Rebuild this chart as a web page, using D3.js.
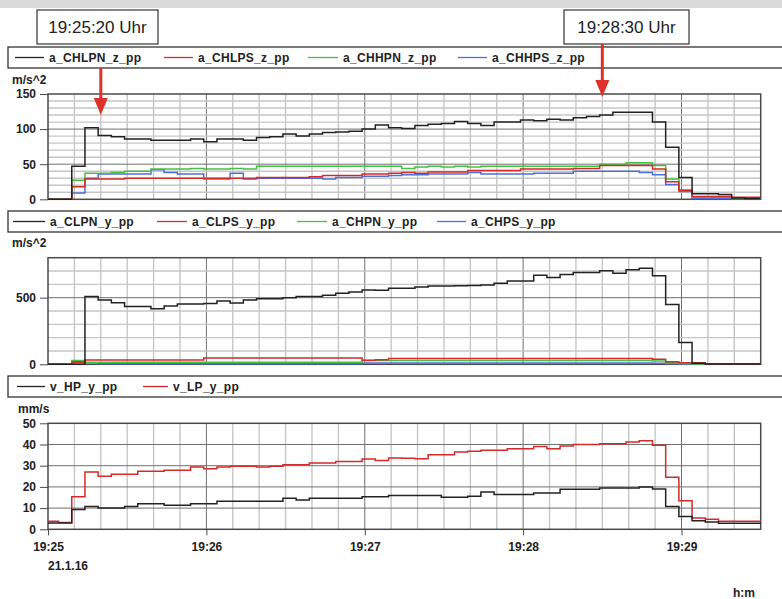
<!DOCTYPE html>
<html>
<head>
<meta charset="utf-8">
<script src="https://cdn.jsdelivr.net/npm/d3@7"></script>
<style>
  body { margin: 0; background: #fff; }
  svg text { font-family: "Liberation Sans", Arial, sans-serif; }
</style>
</head>
<body>
<svg id="chart" width="782" height="599"></svg>
<script>
// Time base: 5 s samples, 19:25:00 .. 19:29:30 (21.1.16)
const t0 = new Date(2016, 0, 21, 19, 25, 0);
const tEnd = new Date(2016, 0, 21, 19, 29, 30);
const stepSec = d3.range(55).map(k => (k === 0 ? 0 : 5 * k - 1));

// Panel 1: a_..._z_pp  [m/s^2]
const namesZ = ["a_CHLPN_z_pp", "a_CHLPS_z_pp", "a_CHHPN_z_pp", "a_CHHPS_z_pp"];
const zCHLPN = [0,0,47,102,91,89,86,86,84,84, 84,86,82,86,86,84,88,89,93,90,
  93,95,96,97,100,106,102,101,105,107, 108,111,108,105,110,110,113,112,114,113,
  116,118,120,124,124,124,110,74,31,8, 8,7,2,1,1];
const zCHLPS = [0,0,18,29,29,29,30,30,30,30, 30,30,30,30,30,29,31,31,31,31,
  32,34,34,34,36,36,37,38,37,39, 39,39,41,41,41,41,43,43,43,43,
  44,44,48,48,48,48,43,25,13,4, 4,4,3,3,3];
const zCHHPN = [0,0,27,37,37,38,40,40,43,43, 43,44,43,43,44,43,47,47,47,47,
  47,47,47,47,47,47,47,44,46,47, 46,47,46,47,47,47,47,47,47,47,
  47,47,50,50,52,52,48,29,13,3, 3,3,1,1,1];
const zCHHPS = [0,0,9,30,36,36,36,36,42,38, 36,36,29,29,37,30,30,30,30,30,
  30,29,31,31,33,33,34,35,35,36, 36,36,38,36,36,36,36,37,37,37,
  40,40,40,40,40,38,35,21,11,1, 1,1,1,1,1];

// Panel 2: a_..._y_pp  [m/s^2]
const namesY = ["a_CLPN_y_pp", "a_CLPS_y_pp", "a_CHPN_y_pp", "a_CHPS_y_pp"];
const yCLPN = [0,0,0,508,482,462,434,434,417,437, 452,452,457,475,460,482,492,492,500,508,
  508,518,533,543,558,556,571,571,581,588, 588,590,592,595,608,626,626,669,652,674,
  689,689,702,684,710,720,664,449,164,8, 3,3,3,3,3];
const yCLPS = [0,0,15,33,33,33,33,33,33,33, 33,33,48,48,48,48,48,48,48,48,
  48,48,48,48,30,35,43,43,43,43, 43,43,43,43,43,43,43,43,43,43,
  43,43,43,43,43,43,38,20,12,12, 3,3,3,3,3];
const yCHPN = [0,0,28,15,15,15,15,15,15,15, 15,15,15,15,15,15,15,15,15,15,
  15,15,15,15,28,28,28,28,28,28, 28,28,28,28,28,28,28,28,28,28,
  28,28,28,28,28,28,25,12,6,2, 2,2,2,2,2];
const yCHPS = [0,0,20,12,5,5,5,5,5,5, 5,5,5,5,5,5,5,5,5,5,
  5,5,5,5,10,10,10,10,10,10, 10,10,10,10,10,10,10,10,10,10,
  10,10,10,10,10,10,8,5,2,2, 2,2,2,2,2];

// Panel 3: velocities [mm/s]
const namesV = ["v_HP_y_pp", "v_LP_y_pp"];
const vHP = [3,3,9.3,10.8,10,10,10.8,12,12,11.3, 11.3,12,12,13.2,13.2,13.2,13.2,13.2,14.6,13.8,
  14.6,14.6,14.6,14.6,15.3,15.3,15.9,15.9,15.9,15.9, 15.1,15.1,15.6,17.6,16.4,16.4,16.4,17.1,17.1,18.9,
  18.9,18.9,19.5,19.5,19.5,20,19,10.7,6,4, 3.5,2.8,2.8,2.8,2.8];
const vLP = [3.8,3.2,15.3,27,25,26,26,27.4,27.4,27.8, 27.8,29.4,28.6,29.4,29.7,29.7,29.4,29.7,30.5,30.5,
  31.3,31.3,32,32,33.2,32.5,33.6,33.5,33.3,35.2, 35.2,36.5,36.8,37.3,37.3,38,38,39,38,39.3,
  40,40,40.3,40.3,41.2,41.8,39.6,24.5,13.5,5.3, 4.7,3.8,3.8,3.8,3.8];

// markers
const marks = [
  { label: "19:25:20 Uhr", sec: 20 },
  { label: "19:28:30 Uhr", sec: 210 }
];

const colors4 = ["#222222", "#d42a2a", "#44c044", "#4d70d6"];
const colors2 = ["#222222", "#d42a2a"];

const svg = d3.select("#chart");
const x = d3.scaleTime().domain([t0, tEnd]).range([48, 760.7]);
const at = s => d3.timeSecond.offset(t0, s);

// grey band on top
svg.append("rect").attr("x", 0).attr("y", 0).attr("width", 782).attr("height", 8).attr("fill", "#dadada");

const panels = [
  { top: 94, bottom: 199.3, max: 150, minor: 10, major: 50, unit: "m/s^2", unitY: 84,
    legendY: 47, names: namesZ, series: [zCHLPN, zCHLPS, zCHHPN, zCHHPS], colors: colors4,
    legendX: [[15, 49], [164, 198], [308, 343], [458, 492]] },
  { top: 257.7, bottom: 364.3, max: 800, minor: 100, major: 500, unit: "m/s^2", unitY: 247,
    legendY: 211, names: namesY, series: [yCLPN, yCLPS, yCHPN, yCHPS], colors: colors4,
    legendX: [[13, 50], [157, 192], [297, 332], [437, 471]] },
  { top: 423.3, bottom: 529.3, max: 50, minor: 10, major: 10, unit: "mm/s", unitY: 413,
    legendY: 376, names: namesV, series: [vHP, vLP], colors: colors2,
    legendX: [[17, 50], [143, 173]] }
];

const minorTimes = d3.timeSecond.every(10).range(t0, tEnd).slice(1);

panels.forEach((p, i) => {
  const y = d3.scaleLinear().domain([0, p.max]).range([p.bottom, p.top]);
  const g = svg.append("g");

  // legend box
  const lg = svg.append("g");
  lg.append("rect").attr("x", 8).attr("y", p.legendY).attr("width", 800).attr("height", 21)
    .attr("fill", "#fff").attr("stroke", "#333").attr("stroke-width", 1.3);
  p.names.forEach((n, j) => {
    const [lx, tx] = p.legendX[j];
    const cy = p.legendY + 10.5;
    lg.append("line").attr("x1", lx).attr("x2", tx - 5).attr("y1", cy).attr("y2", cy)
      .attr("stroke", p.colors[j]).attr("stroke-width", 1.3);
    lg.append("text").attr("x", tx).attr("y", cy + 4.5).text(n)
      .attr("font-size", 12).attr("font-weight", "bold").attr("fill", "#222")
      .attr("letter-spacing", 0.3);
  });

  // unit label
  svg.append("text").attr("x", i === 2 ? 18 : 12).attr("y", p.unitY).text(p.unit)
    .attr("font-size", 12).attr("font-weight", "bold").attr("fill", "#222");

  // vertical grid
  g.selectAll("line.vmin").data(minorTimes).enter().append("line")
    .attr("x1", d => x(d)).attr("x2", d => x(d)).attr("y1", p.top).attr("y2", p.bottom)
    .attr("stroke", d => d.getSeconds() === 0 ? "#707070" : "#c6c6c6")
    .attr("stroke-width", d => d.getSeconds() === 0 ? 1 : 1.4);

  // horizontal grid
  const hv = d3.range(p.minor, p.max, p.minor);
  g.selectAll("line.h").data(hv).enter().append("line")
    .attr("x1", 48).attr("x2", 760.7).attr("y1", d => y(d)).attr("y2", d => y(d))
    .attr("stroke", d => d % p.major === 0 ? "#707070" : "#c6c6c6")
    .attr("stroke-width", d => d % p.major === 0 ? 1 : 1.4);

  // frame
  g.append("rect").attr("x", 48).attr("y", p.top).attr("width", 760.7 - 48).attr("height", p.bottom - p.top)
    .attr("fill", "none").attr("stroke", "#4a4a4a").attr("stroke-width", 1.5);

  // y axis
  const ya = g.append("g").attr("transform", "translate(48,0)")
    .call(d3.axisLeft(y).tickValues(d3.range(0, p.max + 1, p.major)).tickSize(8).tickPadding(4).tickFormat(d3.format("d")));
  ya.select(".domain").remove();
  ya.selectAll("line").attr("stroke", "#4a4a4a");
  ya.selectAll("text").attr("font-size", 12).attr("font-weight", "bold").attr("fill", "#222")
    .attr("font-family", "'Liberation Sans', Arial, sans-serif");

  // series (drawn back to front so first legend entry is on top)
  const line = d3.line().x(d => x(d.t)).y(d => y(d.v)).curve(d3.curveStepAfter);
  p.series.map((s, j) => ({ s, j })).reverse().forEach(({ s, j }) => {
    const pts = s.map((v, k) => ({ t: at(stepSec[k]), v }));
    pts.push({ t: tEnd, v: s[s.length - 1] });
    g.append("path").datum(pts).attr("d", line).attr("fill", "none")
      .attr("stroke", p.colors[j]).attr("stroke-width", 1.5);
  });

  // time axis on the last panel
  if (i === 2) {
    const xa = g.append("g").attr("transform", `translate(0,${p.bottom})`)
      .call(d3.axisBottom(x).ticks(d3.timeMinute.every(1)).tickFormat(d3.timeFormat("%H:%M")).tickSize(6).tickPadding(7));
    xa.select(".domain").remove();
    xa.selectAll("line").attr("stroke", "#4a4a4a");
    xa.selectAll("text").attr("font-size", 12).attr("font-weight", "bold").attr("fill", "#222")
      .attr("font-family", "'Liberation Sans', Arial, sans-serif");
  }
});

svg.append("text").attr("x", 48).attr("y", 570).text("21.1.16")
  .attr("font-size", 12).attr("font-weight", "bold").attr("fill", "#222");
svg.append("text").attr("x", 733).attr("y", 597).text("h:m")
  .attr("font-size", 12).attr("font-weight", "bold").attr("fill", "#222");

// annotation boxes with red arrows
const boxes = [{ x: 37, w: 121, tipY: 115, fromY: 68 }, { x: 564, w: 125, tipY: 97, fromY: 44 }];
marks.forEach((m, i) => {
  const b = boxes[i];
  svg.append("rect").attr("x", b.x).attr("y", 10).attr("width", b.w).attr("height", 34)
    .attr("fill", "#fff").attr("stroke", "#333").attr("stroke-width", 1.2);
  svg.append("text").attr("x", b.x + b.w / 2).attr("y", 33).attr("text-anchor", "middle")
    .text(m.label).attr("font-size", 17).attr("fill", "#222")
    .attr("font-family", "'Liberation Sans Narrow', 'Liberation Sans', Arial, sans-serif");
  const ax = x(at(m.sec));
  svg.append("line").attr("x1", ax).attr("x2", ax).attr("y1", b.fromY).attr("y2", b.tipY - 14)
    .attr("stroke", "#e0302a").attr("stroke-width", 3);
  svg.append("path")
    .attr("d", `M${ax - 7},${b.tipY - 17} L${ax + 7},${b.tipY - 17} L${ax},${b.tipY} Z`)
    .attr("fill", "#e0302a");
});
</script>
</body>
</html>
